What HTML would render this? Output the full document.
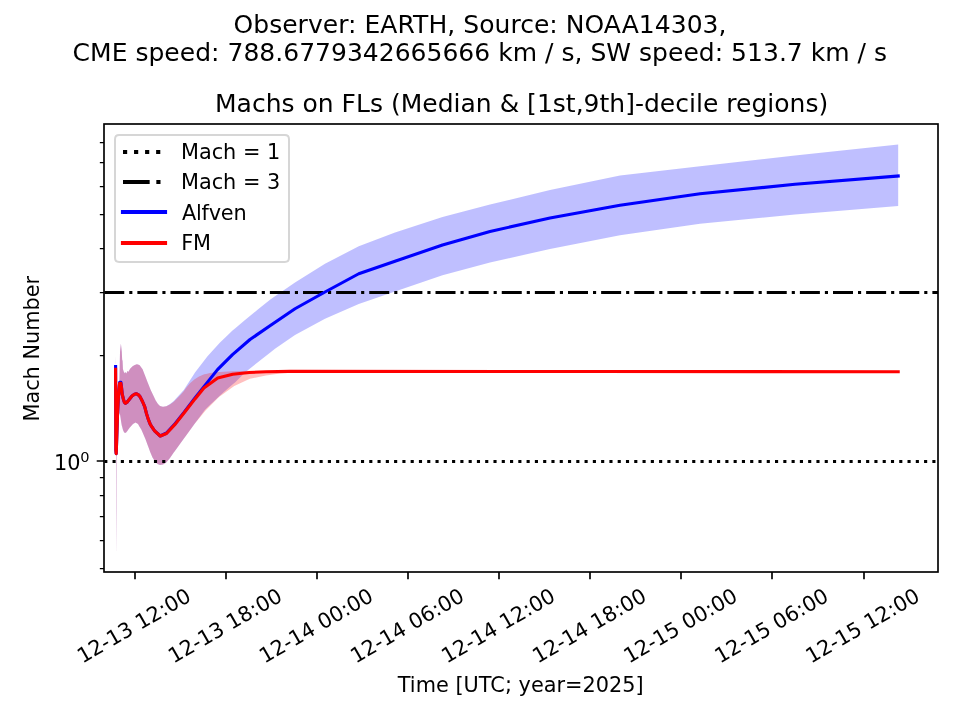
<!DOCTYPE html>
<html lang="en"><head><meta charset="utf-8"><title>Machs on FLs</title>
<style>
html,body{margin:0;padding:0;background:#fff;}
body{width:960px;height:720px;overflow:hidden;}
svg{display:block;}
svg text{font-family:'DejaVu Sans','Liberation Sans',sans-serif;fill:#000;}
.t10{font-size:20.8333px;}
.t12{font-size:25.0000px;}
.t7{font-size:14.5833px;}
</style></head><body>
<svg width="960" height="720" viewBox="0 0 960 720">
<rect x="0" y="0" width="960" height="720" fill="#ffffff"/>
<clipPath id="axclip"><rect x="104.25" y="124.25" width="834.0" height="447.5"/></clipPath>
<g clip-path="url(#axclip)">
<path d="M119.30 384.00 L120.00 352.00 L120.10 351.06 L120.90 343.50 L121.00 344.44 L121.75 351.53 L121.80 352.00 L122.15 359.50 L122.60 361.00 L122.95 369.00 L123.00 369.17 L123.70 371.50 L124.00 372.04 L124.70 373.30 L125.10 372.65 L125.50 372.00 L126.20 373.05 L126.50 373.50 L127.40 370.80 L127.50 370.95 L128.20 372.00 L130.00 368.92 L130.10 368.75 L132.30 366.50 L133.00 366.06 L134.70 365.00 L135.50 364.69 L136.75 364.20 L138.00 364.62 L139.70 365.20 L141.30 367.41 L142.60 369.20 L145.50 376.70 L147.60 382.24 L148.00 383.30 L150.00 388.26 L150.70 390.00 L152.50 393.78 L155.00 399.03 L155.70 400.50 L157.50 403.24 L158.00 404.00 L160.00 406.00 L163.00 406.80 L166.25 406.20 L170.00 404.00 L173.75 401.00 L174.00 400.80 L183.75 390.00 L193.75 374.44 L195.00 372.50 L205.00 359.50 L207.50 356.25 L215.00 348.00 L220.00 342.50 L225.00 337.74 L232.50 330.60 L235.00 328.48 L245.00 320.00 L257.50 309.85 L270.00 299.70 L275.00 296.26 L295.00 282.50 L325.00 263.75 L358.75 246.25 L395.00 232.50 L442.50 217.00 L490.00 204.50 L550.00 190.00 L620.00 175.50 L700.00 166.25 L795.00 155.50 L898.20 144.50 L898.20 205.90 L795.00 214.50 L700.00 223.80 L620.00 235.20 L550.00 249.00 L490.00 262.50 L442.50 275.20 L395.00 291.50 L358.75 304.00 L325.00 318.75 L295.00 335.00 L275.00 348.75 L270.00 352.68 L257.50 362.50 L245.00 372.50 L235.00 382.50 L232.50 384.60 L225.00 390.90 L220.00 395.55 L215.00 400.20 L207.50 407.32 L205.00 409.70 L195.00 423.30 L193.75 425.00 L183.75 438.75 L174.00 452.16 L173.75 452.50 L170.00 458.00 L166.25 462.50 L163.00 464.50 L160.00 465.00 L158.00 464.20 L157.50 464.00 L155.70 462.20 L155.00 461.50 L152.50 457.50 L150.70 453.18 L150.00 451.50 L148.00 446.08 L147.60 445.00 L145.50 439.20 L142.60 432.57 L141.30 429.60 L139.70 426.88 L138.00 424.00 L136.75 423.25 L135.50 422.50 L134.70 422.98 L133.00 424.00 L132.30 424.77 L130.10 427.19 L130.00 427.30 L128.20 429.82 L127.50 430.80 L127.40 430.92 L126.50 432.03 L126.20 432.40 L125.50 432.72 L125.10 432.90 L124.70 432.65 L124.00 432.20 L123.70 431.54 L123.00 430.00 L122.95 429.82 L122.60 428.53 L122.15 426.87 L121.80 425.58 L121.75 425.40 L121.00 421.00 L120.90 420.33 L120.10 415.00 L120.00 414.75 L119.30 413.00Z M116.22 455.00 L116.70 455.00 L116.62 510.00 L116.48 551.00 L116.42 551.00 L116.28 510.00Z M115.50 353.00 L115.56 364.00 L115.44 364.00Z" fill="#0000ff" fill-opacity="0.25"/>
<path d="M119.30 384.00 L120.00 352.00 L120.10 351.06 L120.90 343.50 L121.00 344.44 L121.75 351.53 L121.80 352.00 L122.15 359.50 L122.60 361.00 L122.95 369.00 L123.00 369.17 L123.70 371.50 L124.00 372.04 L124.70 373.30 L125.10 372.65 L125.50 372.00 L126.20 373.05 L126.50 373.50 L127.40 370.80 L127.50 370.95 L128.20 372.00 L130.00 368.92 L130.10 368.75 L132.30 366.50 L133.00 366.06 L134.70 365.00 L135.50 364.69 L136.75 364.20 L138.00 364.62 L139.70 365.20 L141.30 367.41 L142.60 369.20 L145.50 376.70 L147.60 382.24 L148.00 383.30 L150.00 388.26 L150.70 390.00 L152.50 393.78 L155.00 399.03 L155.70 400.50 L157.50 403.24 L158.00 404.00 L160.00 406.00 L163.00 406.80 L166.25 406.20 L170.00 404.50 L173.75 401.78 L174.00 401.60 L180.00 395.60 L183.75 391.30 L186.00 388.00 L190.00 383.30 L193.75 379.90 L194.30 379.40 L199.00 376.40 L204.30 374.30 L206.00 373.91 L210.00 373.00 L217.70 372.10 L219.30 372.00 L232.50 371.20 L234.30 371.16 L249.30 370.82 L250.00 370.80 L266.00 370.72 L280.00 370.65 L290.00 370.60 L295.00 370.60 L600.00 370.80 L898.20 371.00 L898.20 372.60 L600.00 372.40 L295.00 372.60 L290.00 372.87 L280.00 373.40 L266.00 375.40 L250.00 378.85 L249.30 379.00 L234.30 386.00 L232.50 387.28 L219.30 396.70 L217.70 398.30 L210.00 406.00 L206.00 410.00 L204.30 412.08 L199.00 418.57 L194.30 424.33 L193.75 425.00 L190.00 430.16 L186.00 435.66 L183.75 438.75 L180.00 443.91 L174.00 452.16 L173.75 452.50 L170.00 458.00 L166.25 462.50 L163.00 464.50 L160.00 465.00 L158.00 464.20 L157.50 464.00 L155.70 462.20 L155.00 461.50 L152.50 457.50 L150.70 453.18 L150.00 451.50 L148.00 446.08 L147.60 445.00 L145.50 439.20 L142.60 432.57 L141.30 429.60 L139.70 426.88 L138.00 424.00 L136.75 423.25 L135.50 422.50 L134.70 422.98 L133.00 424.00 L132.30 424.77 L130.10 427.19 L130.00 427.30 L128.20 429.82 L127.50 430.80 L127.40 430.92 L126.50 432.03 L126.20 432.40 L125.50 432.72 L125.10 432.90 L124.70 432.65 L124.00 432.20 L123.70 431.54 L123.00 430.00 L122.95 429.82 L122.60 428.53 L122.15 426.87 L121.80 425.58 L121.75 425.40 L121.00 421.00 L120.90 420.33 L120.10 415.00 L120.00 414.75 L119.30 413.00Z M116.22 455.00 L116.70 455.00 L116.62 510.00 L116.48 551.00 L116.42 551.00 L116.28 510.00Z M115.50 353.00 L115.56 364.00 L115.44 364.00Z" fill="#ff0000" fill-opacity="0.25"/>
<path d="M104.25 461.50 L938.25 461.50" fill="none" stroke="#000" stroke-width="3.125" stroke-dasharray="3.125 5.156"/>
<path d="M104.25 292.50 L938.25 292.50" fill="none" stroke="#000" stroke-width="3.125" stroke-dasharray="20.000 5.000 3.125 5.000"/>
<path d="M115.60 366.50 L115.85 450.00 L116.20 453.70 L116.50 445.00 L117.50 415.00 L118.50 396.00 L119.40 385.00 L119.70 382.40 L120.90 382.40 L121.50 387.50 L122.20 394.20 L123.40 399.20 L124.40 402.30 L125.50 403.30 L127.00 402.20 L129.00 399.70 L132.00 396.00 L134.50 394.20 L136.30 393.75 L138.20 394.60 L140.00 396.60 L142.50 401.50 L144.70 406.70 L146.50 413.60 L148.40 419.60 L150.40 424.60 L154.60 430.80 L160.25 436.00 L166.50 433.00 L175.25 423.50 L184.60 411.60 L195.00 397.90 L203.75 386.90 L217.50 369.60 L232.50 354.60 L250.00 339.50 L270.00 325.70 L295.00 308.75 L325.00 292.00 L358.75 273.75 L395.00 261.25 L442.50 245.00 L490.00 231.50 L550.00 218.00 L620.00 205.20 L700.00 193.70 L795.00 184.30 L898.20 175.95" fill="none" stroke="#0000ff" stroke-width="3.125" stroke-linecap="square" stroke-linejoin="round"/>
<path d="M115.60 369.30 L115.85 450.00 L116.20 453.70 L116.50 445.00 L117.50 415.00 L118.50 396.00 L119.40 385.00 L119.70 383.40 L120.90 383.40 L121.50 387.50 L122.20 394.20 L123.40 399.20 L124.40 402.30 L125.50 403.30 L127.00 402.20 L129.00 399.70 L132.00 396.00 L134.50 394.20 L136.30 393.75 L138.20 394.60 L140.00 396.60 L142.50 401.50 L144.70 406.70 L146.50 413.60 L148.40 419.60 L150.40 424.60 L154.60 430.80 L160.25 436.00 L166.50 433.50 L175.25 424.10 L184.60 412.25 L195.00 398.90 L203.90 388.00 L217.70 377.90 L232.70 374.20 L249.30 372.50 L266.00 371.80 L290.00 371.40 L600.00 371.50 L898.20 371.80" fill="none" stroke="#ff0000" stroke-width="3.125" stroke-linecap="square" stroke-linejoin="round"/>
</g>
<path d="M135.00 572.0 v7.292M226.00 572.0 v7.292M317.00 572.0 v7.292M408.00 572.0 v7.292M499.00 572.0 v7.292M590.00 572.0 v7.292M681.00 572.0 v7.292M772.00 572.0 v7.292M864.00 572.0 v7.292M104.0 461.00 h-7.292" fill="none" stroke="#000" stroke-width="1.667"/>
<path d="M104.0 568.50 h-4.167M104.0 540.50 h-4.167M104.0 516.50 h-4.167M104.0 495.50 h-4.167M104.0 477.50 h-4.167M104.0 355.50 h-4.167M104.0 292.50 h-4.167M104.0 248.50 h-4.167M104.0 214.50 h-4.167M104.0 186.50 h-4.167M104.0 162.50 h-4.167M104.0 142.50 h-4.167" fill="none" stroke="#000" stroke-width="1.250"/>
<rect x="104.0" y="124.0" width="834.0" height="448.0" fill="none" stroke="#000" stroke-width="1.667" stroke-linejoin="miter"/>
<text class="t10" transform="translate(82.396 663.671) rotate(-30)">12-13 12:00</text>
<text class="t10" transform="translate(173.476 663.671) rotate(-30)">12-13 18:00</text>
<text class="t10" transform="translate(264.556 663.671) rotate(-30)">12-14 00:00</text>
<text class="t10" transform="translate(355.636 663.671) rotate(-30)">12-14 06:00</text>
<text class="t10" transform="translate(446.716 663.671) rotate(-30)">12-14 12:00</text>
<text class="t10" transform="translate(537.796 663.671) rotate(-30)">12-14 18:00</text>
<text class="t10" transform="translate(628.876 663.671) rotate(-30)">12-15 00:00</text>
<text class="t10" transform="translate(719.956 663.671) rotate(-30)">12-15 06:00</text>
<text class="t10" transform="translate(811.036 663.671) rotate(-30)">12-15 12:00</text>
<text class="t10" text-anchor="middle" x="520.750" y="691.557" textLength="246.0" lengthAdjust="spacing">Time [UTC; year=2025]</text>
<text class="t10" x="54.100" y="469.741">10<tspan class="t7" x="80.309" y="461.765">0</tspan></text>
<text class="t10" text-anchor="middle" transform="translate(39.354 348.750) rotate(-90)">Mach Number</text>
<text class="t12" text-anchor="middle" x="521.580" y="111.750" textLength="613.2" lengthAdjust="spacing">Machs on FLs (Median &amp; [1st,9th]-decile regions)</text>
<path d="M119.167 262.0 L284.833 262.0 Q289.0 262.0 289.0 257.833 L289.0 139.167 Q289.0 135.0 284.833 135.0 L119.167 135.0 Q115.0 135.0 115.0 139.167 L115.0 257.833 Q115.0 262.0 119.167 262.0Z" fill="#ffffff" stroke="#cccccc" stroke-width="2" stroke-linejoin="miter" opacity="0.8"/>
<path d="M123.0 152.0 L165.0 152.0" fill="none" stroke="#000" stroke-width="4.167" stroke-dasharray="4.167 6.875"/>
<path d="M123.0 182.0 L165.0 182.0" fill="none" stroke="#000" stroke-width="4.167" stroke-dasharray="26.667 6.667 4.167 6.667"/>
<path d="M123.0 212.0 L165.0 212.0" fill="none" stroke="#0000ff" stroke-width="4.167" stroke-linecap="square"/>
<path d="M123.0 243.0 L165.0 243.0" fill="none" stroke="#ff0000" stroke-width="4.167" stroke-linecap="square"/>
<text class="t10" x="180.933" y="158.830">Mach = 1</text>
<text class="t10" x="180.933" y="189.410">Mach = 3</text>
<text class="t10" x="181.933" y="219.989" textLength="64.7" lengthAdjust="spacing">Alfven</text>
<text class="t10" x="181.133" y="249.578">FM</text>
<text class="t12" text-anchor="middle" x="480" y="33.396" textLength="493.0" lengthAdjust="spacing">Observer: EARTH, Source: NOAA14303,</text>
<text class="t12" text-anchor="middle" x="479.8" y="61.391" textLength="814.5" lengthAdjust="spacing">CME speed: 788.6779342665666 km / s, SW speed: 513.7 km / s</text>
</svg></body></html>
